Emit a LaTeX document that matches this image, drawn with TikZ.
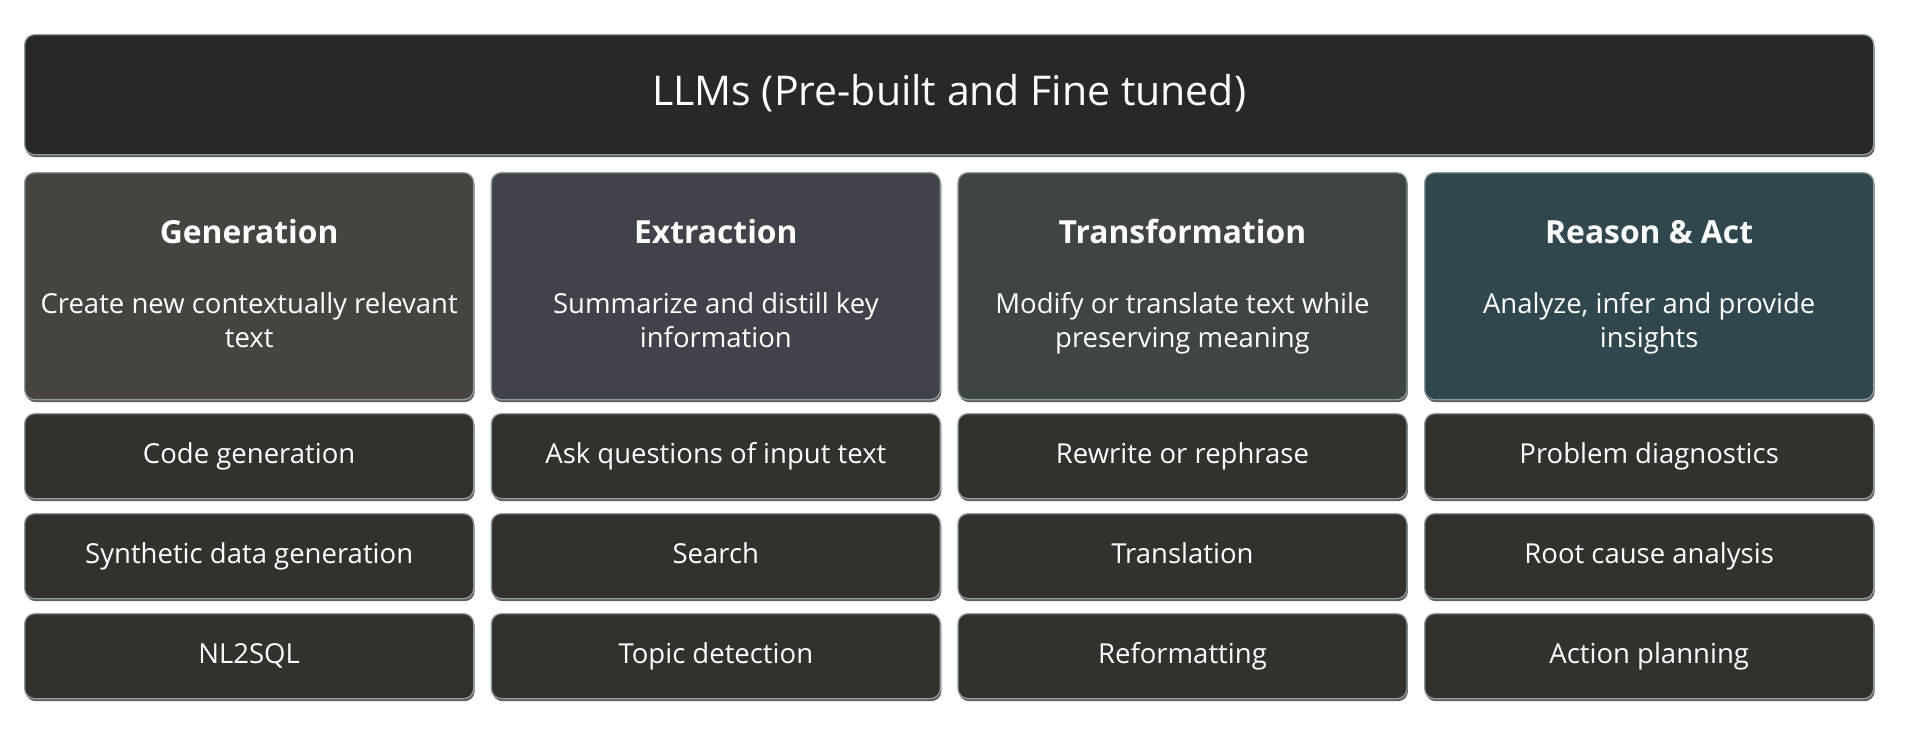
\documentclass[tikz,border=0pt]{standalone}
\usepackage{fontspec}
\setmainfont{Open Sans}
\usetikzlibrary{shadows}
\definecolor{topc}{HTML}{262829}
\definecolor{genc}{HTML}{47443F}
\definecolor{extc}{HTML}{404349}
\definecolor{trac}{HTML}{3E4544}
\definecolor{reac}{HTML}{30484D}
\definecolor{rowc}{HTML}{33312C}
\definecolor{edgec}{HTML}{8E9C9E}
\tikzset{
  card/.style={rounded corners=10pt, draw=edgec, line width=1.3pt,
    inner sep=0pt, anchor=north west, minimum width=449pt,
    drop shadow={shadow xshift=1pt, shadow yshift=-2.5pt, opacity=0.75, fill=black!85}},
  headcard/.style={card, minimum height=227pt},
  rowcard/.style={card, fill=rowc, minimum height=85pt},
  txt/.style={text=white, inner sep=0pt, anchor=base, font=\fontsize{27.5}{34}\selectfont},
  hdtxt/.style={txt, font=\bfseries\fontsize{31.8}{38}\selectfont},
  titletxt/.style={txt, font=\fontsize{41}{48}\selectfont}
}
\newcommand{\rowbox}[4]{%
  \node[rowcard] (#1) at (#2,#3) {};
  \node[txt] (#1t) at ([yshift=-50pt]#1.north) {#4};}
\newcommand{\headbox}[7]{%
  \node[headcard, fill=#4] (#1) at (#2,#3) {};
  \node[hdtxt] (#1h) at ([yshift=-71pt]#1.north) {#5};
  \node[txt] (#1a) at ([yshift=-141pt]#1.north) {#6};
  \node[txt] (#1b) at ([yshift=-175pt]#1.north) {#7};}
\begin{document}
\begin{tikzpicture}[x=1pt,y=-1pt]
\useasboundingbox (0,0) rectangle (1905,747);
\node[card, fill=topc, minimum width=1849pt, minimum height=120pt] (llm) at (24,34) {};
\node[titletxt] (llmt) at ([yshift=-71pt]llm.north) {LLMs (Pre-built and Fine tuned)};
% header cards
\headbox{gen}{24}{172}{genc}{Generation}{Create new contextually relevant}{text}
\headbox{ext}{490.7}{172}{extc}{Extraction}{Summarize and distill key}{information}
\headbox{tra}{957.3}{172}{trac}{Transformation}{Modify or translate text while}{preserving meaning}
\headbox{rea}{1424}{172}{reac}{Reason \& Act}{Analyze, infer and provide}{insights}
% rows
\rowbox{g1}{24}{413}{Code generation}
\rowbox{g2}{24}{513}{Synthetic data generation}
\rowbox{g3}{24}{613}{NL2SQL}
\rowbox{e1}{490.7}{413}{Ask questions of input text}
\rowbox{e2}{490.7}{513}{Search}
\rowbox{e3}{490.7}{613}{Topic detection}
\rowbox{t1}{957.3}{413}{Rewrite or rephrase}
\rowbox{t2}{957.3}{513}{Translation}
\rowbox{t3}{957.3}{613}{Reformatting}
\rowbox{r1}{1424}{413}{Problem diagnostics}
\rowbox{r2}{1424}{513}{Root cause analysis}
\rowbox{r3}{1424}{613}{Action planning}
\end{tikzpicture}
\end{document}
